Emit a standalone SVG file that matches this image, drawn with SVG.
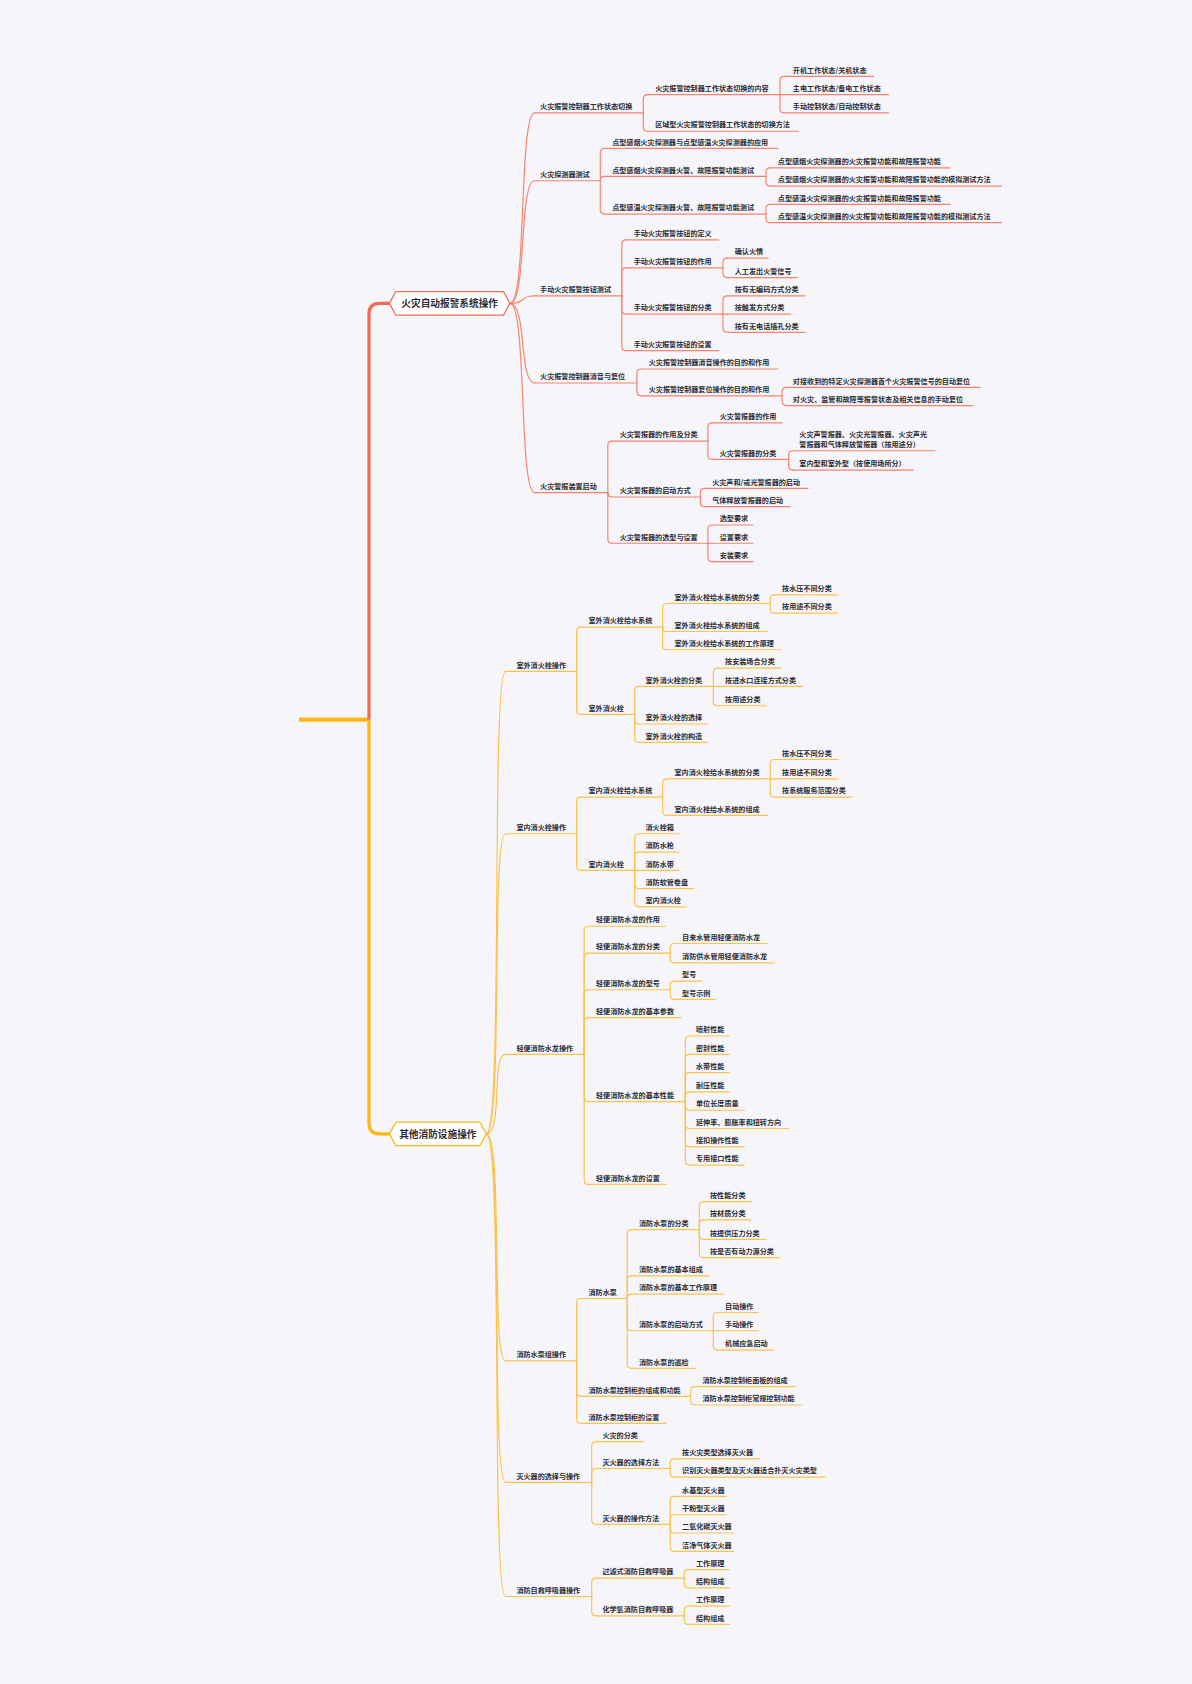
<svg xmlns="http://www.w3.org/2000/svg" width="1192" height="1684" viewBox="0 0 1192 1684">
<style>
text{font-family:"Noto Sans CJK SC","Liberation Sans",sans-serif;font-size:6.6px;font-weight:600;fill:#2b2b33}
.m{font-size:9px;font-weight:700;text-anchor:middle}
.r{stroke:#f8836f;stroke-width:1.1;fill:none;stroke-linecap:round}
.y{stroke:#fbc24e;stroke-width:1.1;fill:none;stroke-linecap:round}
</style>
<rect width="1192" height="1684" fill="#f6f6fa"/>
<g transform="scale(1.0758)">
<g id="connectors">
<path d="M278 669 H343" stroke="#fbb718" stroke-width="4" fill="none"/>
<path d="M343 669 V292 Q343 282 353 282 H362" stroke="#f46a58" stroke-width="3" fill="none"/>
<path d="M343 669 V1044 Q343 1054 353 1054 H362" stroke="#fbb718" stroke-width="3" fill="none"/>
<g class="r">
<path d="M474 282 C490 282 482 105 497 105"/><path d="M474 282 C490 282 482 168 497 168"/><path d="M474 282 C490 282 482 275 497 275"/><path d="M474 282 C490 282 482 356 497 356"/><path d="M474 282 C490 282 482 458 497 458"/>
<path d="M598 105 V92 Q598 88 602 88"/><path d="M598 105 V118 Q598 122 602 122"/>
<path d="M725 88 V75 Q725 71 729 71"/><path d="M725 88 H729"/><path d="M725 88 V101 Q725 105 729 105"/>
<path d="M558 168 V142 Q558 138 562 138"/><path d="M558 168 Q558 164 562 164"/><path d="M558 168 V195 Q558 199 562 199"/>
<path d="M712 164 V160 Q712 156 716 156"/><path d="M712 164 V169 Q712 173 716 173"/>
<path d="M712 199 V194 Q712 190 716 190"/><path d="M712 199 V203 Q712 207 716 207"/>
<path d="M578 275 V227 Q578 223 582 223"/><path d="M578 275 V253 Q578 249 582 249"/><path d="M578 275 V288 Q578 292 582 292"/><path d="M578 275 V322 Q578 326 582 326"/>
<path d="M672 249 V244 Q672 240 676 240"/><path d="M672 249 V254 Q672 258 676 258"/>
<path d="M672 292 V279 Q672 275 676 275"/><path d="M672 292 H676"/><path d="M672 292 V305 Q672 309 676 309"/>
<path d="M592 356 V347 Q592 343 596 343"/><path d="M592 356 V364 Q592 368 596 368"/>
<path d="M727 368 V364 Q727 360 731 360"/><path d="M727 368 V373 Q727 377 731 377"/>
<path d="M565 458 V414 Q565 410 569 410"/><path d="M565 458 Q565 462 569 462"/><path d="M565 458 V501 Q565 505 569 505"/>
<path d="M658 410 V397 Q658 393 662 393"/><path d="M658 410 V423 Q658 427 662 427"/>
<path d="M733 427 V423 Q733 419 737 419"/><path d="M733 427 V433 Q733 437 737 437"/>
<path d="M651 462 V458 Q651 454 655 454"/><path d="M651 462 V467 Q651 471 655 471"/>
<path d="M658 505 V492 Q658 488 662 488"/><path d="M658 505 H662"/><path d="M658 505 V518 Q658 522 662 522"/>
</g>
<g class="y">
<path d="M452 1054 C468 1054 456 624 470 624"/><path d="M452 1054 C468 1054 456 775 470 775"/><path d="M452 1054 C468 1054 456 980 470 980"/><path d="M452 1054 C468 1054 456 1265 470 1265"/><path d="M452 1054 C468 1054 456 1378 470 1378"/><path d="M452 1054 C468 1054 456 1484 470 1484"/>
<path d="M536 624 V587 Q536 583 540 583"/><path d="M536 624 V660 Q536 664 540 664"/>
<path d="M616 583 V565 Q616 561 620 561"/><path d="M616 583 Q616 587 620 587"/><path d="M616 583 V600 Q616 604 620 604"/>
<path d="M716 561 V557 Q716 553 720 553"/><path d="M716 561 V566 Q716 570 720 570"/>
<path d="M590 664 V642 Q590 638 594 638"/><path d="M590 664 V669 Q590 673 594 673"/><path d="M590 664 V686 Q590 690 594 690"/>
<path d="M663 638 V625 Q663 621 667 621"/><path d="M663 638 H667"/><path d="M663 638 V652 Q663 656 667 656"/>
<path d="M536 775 V745 Q536 741 540 741"/><path d="M536 775 V805 Q536 809 540 809"/>
<path d="M616 741 V728 Q616 724 620 724"/><path d="M616 741 V754 Q616 758 620 758"/>
<path d="M716 724 V710 Q716 706 720 706"/><path d="M716 724 H720"/><path d="M716 724 V737 Q716 741 720 741"/>
<path d="M590 809 V779 Q590 775 594 775"/><path d="M590 809 V796 Q590 792 594 792"/><path d="M590 809 H594"/><path d="M590 809 V822 Q590 826 594 826"/><path d="M590 809 V839 Q590 843 594 843"/>
<path d="M543 980 V865 Q543 861 547 861"/><path d="M543 980 V890 Q543 886 547 886"/><path d="M543 980 V924 Q543 920 547 920"/><path d="M543 980 V950 Q543 946 547 946"/><path d="M543 980 V1020 Q543 1024 547 1024"/><path d="M543 980 V1097 Q543 1101 547 1101"/>
<path d="M623 886 V881 Q623 877 627 877"/><path d="M623 886 V891 Q623 895 627 895"/>
<path d="M623 920 V916 Q623 912 627 912"/><path d="M623 920 V925 Q623 929 627 929"/>
<path d="M637 1024 V967 Q637 963 641 963"/><path d="M637 1024 V984 Q637 980 641 980"/><path d="M637 1024 V1001 Q637 997 641 997"/><path d="M637 1024 V1019 Q637 1015 641 1015"/><path d="M637 1024 V1028 Q637 1032 641 1032"/><path d="M637 1024 V1045 Q637 1049 641 1049"/><path d="M637 1024 V1062 Q637 1066 641 1066"/><path d="M637 1024 V1079 Q637 1083 641 1083"/>
<path d="M536 1265 V1211 Q536 1207 540 1207"/><path d="M536 1265 V1294 Q536 1298 540 1298"/><path d="M536 1265 V1319 Q536 1323 540 1323"/>
<path d="M583 1207 V1147 Q583 1143 587 1143"/><path d="M583 1207 V1190 Q583 1186 587 1186"/><path d="M583 1207 Q583 1203 587 1203"/><path d="M583 1207 V1233 Q583 1237 587 1237"/><path d="M583 1207 V1268 Q583 1272 587 1272"/>
<path d="M650 1143 V1121 Q650 1117 654 1117"/><path d="M650 1143 V1138 Q650 1134 654 1134"/><path d="M650 1143 V1148 Q650 1152 654 1152"/><path d="M650 1143 V1165 Q650 1169 654 1169"/>
<path d="M663 1237 V1224 Q663 1220 667 1220"/><path d="M663 1237 H667"/><path d="M663 1237 V1251 Q663 1255 667 1255"/>
<path d="M642 1298 V1293 Q642 1289 646 1289"/><path d="M642 1298 V1302 Q642 1306 646 1306"/>
<path d="M550 1378 V1344 Q550 1340 554 1340"/><path d="M550 1378 V1369 Q550 1365 554 1365"/><path d="M550 1378 V1413 Q550 1417 554 1417"/>
<path d="M623 1365 V1360 Q623 1356 627 1356"/><path d="M623 1365 V1369 Q623 1373 627 1373"/>
<path d="M623 1417 V1395 Q623 1391 627 1391"/><path d="M623 1417 V1412 Q623 1408 627 1408"/><path d="M623 1417 V1421 Q623 1425 627 1425"/><path d="M623 1417 V1438 Q623 1442 627 1442"/>
<path d="M550 1484 V1471 Q550 1467 554 1467"/><path d="M550 1484 V1498 Q550 1502 554 1502"/>
<path d="M636 1467 V1463 Q636 1459 640 1459"/><path d="M636 1467 V1472 Q636 1476 640 1476"/>
<path d="M636 1502 V1497 Q636 1493 640 1493"/><path d="M636 1502 V1506 Q636 1510 640 1510"/>
</g>
</g>

<g id="main1"><polygon points="362,282 368,271 468,271 474,282 468,293 368,293" fill="#fff" stroke="#f46a58" stroke-width="1.2"/><text class="m" x="418" y="285.5">火灾自动报警系统操作</text></g>
<g id="main2"><polygon points="362,1054 368,1043 446,1043 452,1054 446,1065 368,1065" fill="#fff" stroke="#fbb718" stroke-width="1.2"/><text class="m" x="407" y="1057.5">其他消防设施操作</text></g>

<g class="r" id="top-underlines">
<path d="M497 105 H598"/><path d="M602 88 H725"/><path d="M729 71 H812"/><path d="M729 88 H826"/><path d="M729 105 H826"/><path d="M602 122 H742"/>
<path d="M497 168 H558"/><path d="M562 138 H723"/><path d="M562 164 H712"/><path d="M716 156 H883"/><path d="M716 173 H931"/><path d="M562 199 H712"/><path d="M716 190 H883"/><path d="M716 207 H931"/>
<path d="M497 275 H578"/><path d="M582 223 H668"/><path d="M582 249 H672"/><path d="M676 240 H714"/><path d="M676 258 H741"/><path d="M582 292 H672"/><path d="M676 275 H748"/><path d="M676 292 H735"/><path d="M676 309 H748"/><path d="M582 326 H668"/>
<path d="M497 356 H592"/><path d="M596 343 H723"/><path d="M596 368 H727"/><path d="M731 360 H911"/><path d="M731 377 H904"/>
<path d="M497 458 H565"/><path d="M569 410 H658"/><path d="M662 393 H727"/><path d="M662 427 H733"/><path d="M737 419 H869"/><path d="M737 437 H849"/><path d="M569 462 H651"/><path d="M655 454 H751"/><path d="M655 471 H734"/><path d="M569 505 H658"/><path d="M662 488 H700"/><path d="M662 505 H700"/><path d="M662 522 H700"/>
</g>
<g class="y" id="bottom-underlines">
<path d="M470 624 H536"/><path d="M540 583 H616"/><path d="M620 561 H716"/><path d="M720 553 H779"/><path d="M720 570 H779"/><path d="M620 587 H713"/><path d="M620 604 H726"/><path d="M540 664 H590"/><path d="M594 638 H663"/><path d="M667 621 H726"/><path d="M667 638 H746"/><path d="M667 656 H712"/><path d="M594 673 H658"/><path d="M594 690 H658"/>
<path d="M470 775 H536"/><path d="M540 741 H616"/><path d="M620 724 H716"/><path d="M720 706 H779"/><path d="M720 724 H779"/><path d="M720 741 H792"/><path d="M620 758 H713"/><path d="M540 809 H590"/><path d="M594 775 H631"/><path d="M594 792 H631"/><path d="M594 809 H631"/><path d="M594 826 H645"/><path d="M594 843 H638"/>
<path d="M470 980 H543"/><path d="M547 861 H619"/><path d="M547 886 H623"/><path d="M627 877 H713"/><path d="M627 895 H720"/><path d="M547 920 H623"/><path d="M627 912 H652"/><path d="M627 929 H665"/><path d="M547 946 H633"/><path d="M547 1024 H637"/><path d="M641 963 H678"/><path d="M641 980 H678"/><path d="M641 997 H678"/><path d="M641 1015 H678"/><path d="M641 1032 H692"/><path d="M641 1049 H733"/><path d="M641 1066 H692"/><path d="M641 1083 H692"/><path d="M547 1101 H619"/>
<path d="M470 1265 H536"/><path d="M540 1207 H583"/><path d="M587 1143 H650"/><path d="M654 1117 H698"/><path d="M654 1134 H698"/><path d="M654 1152 H712"/><path d="M654 1169 H725"/><path d="M587 1186 H659"/><path d="M587 1203 H673"/><path d="M587 1237 H663"/><path d="M667 1220 H705"/><path d="M667 1237 H705"/><path d="M667 1255 H719"/><path d="M587 1272 H646"/><path d="M540 1298 H642"/><path d="M646 1289 H739"/><path d="M646 1306 H745"/><path d="M540 1323 H619"/>
<path d="M470 1378 H550"/><path d="M554 1340 H598"/><path d="M554 1365 H623"/><path d="M627 1356 H706"/><path d="M627 1373 H767"/><path d="M554 1417 H623"/><path d="M627 1391 H675"/><path d="M627 1408 H675"/><path d="M627 1425 H682"/><path d="M627 1442 H682"/>
<path d="M470 1484 H550"/><path d="M554 1467 H636"/><path d="M640 1459 H678"/><path d="M640 1476 H678"/><path d="M554 1502 H636"/><path d="M640 1493 H678"/><path d="M640 1510 H678"/>
</g>

<g id="top-nodes">
<text x="502" y="101.5">火灾报警控制器工作状态切换</text>
<text x="609" y="84.5">火灾报警控制器工作状态切换的内容</text>
<text x="737" y="67.5">开机工作状态/关机状态</text>
<text x="737" y="84.5">主电工作状态/备电工作状态</text>
<text x="737" y="101.5">手动控制状态/自动控制状态</text>
<text x="609" y="118.5">区域型火灾报警控制器工作状态的切换方法</text>
<text x="502" y="164.5">火灾探测器测试</text>
<text x="569" y="134.5">点型感烟火灾探测器与点型感温火灾探测器的应用</text>
<text x="569" y="160.5">点型感烟火灾探测器火警、故障报警功能测试</text>
<text x="723" y="152.5">点型感烟火灾探测器的火灾报警功能和故障报警功能</text>
<text x="723" y="169.5">点型感烟火灾探测器的火灾报警功能和故障报警功能的模拟测试方法</text>
<text x="569" y="195.5">点型感温火灾探测器火警、故障报警功能测试</text>
<text x="723" y="186.5">点型感温火灾探测器的火灾报警功能和故障报警功能</text>
<text x="723" y="203.5">点型感温火灾探测器的火灾报警功能和故障报警功能的模拟测试方法</text>
<text x="502" y="271.5">手动火灾报警按钮测试</text>
<text x="589" y="219.5">手动火灾报警按钮的定义</text>
<text x="589" y="245.5">手动火灾报警按钮的作用</text>
<text x="683" y="236.5">确认火情</text>
<text x="683" y="254.5">人工发出火警信号</text>
<text x="589" y="288.5">手动火灾报警按钮的分类</text>
<text x="683" y="271.5">按有无编码方式分类</text>
<text x="683" y="288.5">按触发方式分类</text>
<text x="683" y="305.5">按有无电话插孔分类</text>
<text x="589" y="322.5">手动火灾报警按钮的设置</text>
<text x="502" y="352.5">火灾报警控制器消音与复位</text>
<text x="603" y="339.5">火灾报警控制器消音操作的目的和作用</text>
<text x="603" y="364.5">火灾报警控制器复位操作的目的和作用</text>
<text x="737" y="356.5">对接收到的特定火灾探测器首个火灾报警信号的自动复位</text>
<text x="737" y="373.5">对火灾、监管和故障等报警状态及相关信息的手动复位</text>
<text x="502" y="454.5">火灾警报装置启动</text>
<text x="576" y="406.5">火灾警报器的作用及分类</text>
<text x="669" y="389.5">火灾警报器的作用</text>
<text x="669" y="423.5">火灾警报器的分类</text>
<text x="743" y="406.5">火灾声警报器、火灾光警报器、火灾声光</text>
<text x="743" y="415.5">警报器和气体释放警报器（按用途分）</text>
<text x="743" y="433.5">室内型和室外型（按使用场所分）</text>
<text x="576" y="458.5">火灾警报器的启动方式</text>
<text x="662" y="450.5">火灾声和/或光警报器的启动</text>
<text x="662" y="467.5">气体释放警报器的启动</text>
<text x="576" y="501.5">火灾警报器的选型与设置</text>
<text x="669" y="484.5">选型要求</text>
<text x="669" y="501.5">设置要求</text>
<text x="669" y="518.5">安装要求</text>
</g>

<g id="bottom-nodes">
<text x="480" y="620.5">室外消火栓操作</text>
<text x="547" y="579.5">室外消火栓给水系统</text>
<text x="627" y="557.5">室外消火栓给水系统的分类</text>
<text x="727" y="549.5">按水压不同分类</text>
<text x="727" y="566.5">按用途不同分类</text>
<text x="627" y="583.5">室外消火栓给水系统的组成</text>
<text x="627" y="600.5">室外消火栓给水系统的工作原理</text>
<text x="547" y="660.5">室外消火栓</text>
<text x="600" y="634.5">室外消火栓的分类</text>
<text x="674" y="617.5">按安装场合分类</text>
<text x="674" y="634.5">按进水口连接方式分类</text>
<text x="674" y="652.5">按用途分类</text>
<text x="600" y="669.5">室外消火栓的选择</text>
<text x="600" y="686.5">室外消火栓的构造</text>
<text x="480" y="771.5">室内消火栓操作</text>
<text x="547" y="737.5">室内消火栓给水系统</text>
<text x="627" y="720.5">室内消火栓给水系统的分类</text>
<text x="727" y="702.5">按水压不同分类</text>
<text x="727" y="720.5">按用途不同分类</text>
<text x="727" y="737.5">按系统服务范围分类</text>
<text x="627" y="754.5">室内消火栓给水系统的组成</text>
<text x="547" y="805.5">室内消火栓</text>
<text x="600" y="771.5">消火栓箱</text>
<text x="600" y="788.5">消防水枪</text>
<text x="600" y="805.5">消防水带</text>
<text x="600" y="822.5">消防软管卷盘</text>
<text x="600" y="839.5">室内消火栓</text>
<text x="480" y="976.5">轻便消防水龙操作</text>
<text x="554" y="857.5">轻便消防水龙的作用</text>
<text x="554" y="882.5">轻便消防水龙的分类</text>
<text x="634" y="873.5">自来水管用轻便消防水龙</text>
<text x="634" y="891.5">消防供水管用轻便消防水龙</text>
<text x="554" y="916.5">轻便消防水龙的型号</text>
<text x="634" y="908.5">型号</text>
<text x="634" y="925.5">型号示例</text>
<text x="554" y="942.5">轻便消防水龙的基本参数</text>
<text x="554" y="1020.5">轻便消防水龙的基本性能</text>
<text x="647" y="959.5">喷射性能</text>
<text x="647" y="976.5">密封性能</text>
<text x="647" y="993.5">水带性能</text>
<text x="647" y="1011.5">耐压性能</text>
<text x="647" y="1028.5">单位长度质量</text>
<text x="647" y="1045.5">延伸率、膨胀率和扭转方向</text>
<text x="647" y="1062.5">接扣操作性能</text>
<text x="647" y="1079.5">专用接口性能</text>
<text x="554" y="1097.5">轻便消防水龙的设置</text>
<text x="480" y="1261.5">消防水泵组操作</text>
<text x="547" y="1203.5">消防水泵</text>
<text x="594" y="1139.5">消防水泵的分类</text>
<text x="660" y="1113.5">按性能分类</text>
<text x="660" y="1130.5">按材质分类</text>
<text x="660" y="1148.5">按提供压力分类</text>
<text x="660" y="1165.5">按是否有动力源分类</text>
<text x="594" y="1182.5">消防水泵的基本组成</text>
<text x="594" y="1199.5">消防水泵的基本工作原理</text>
<text x="594" y="1233.5">消防水泵的启动方式</text>
<text x="674" y="1216.5">自动操作</text>
<text x="674" y="1233.5">手动操作</text>
<text x="674" y="1251.5">机械应急启动</text>
<text x="594" y="1268.5">消防水泵的巡检</text>
<text x="547" y="1294.5">消防水泵控制柜的组成和功能</text>
<text x="653" y="1285.5">消防水泵控制柜面板的组成</text>
<text x="653" y="1302.5">消防水泵控制柜常规控制功能</text>
<text x="547" y="1319.5">消防水泵控制柜的设置</text>
<text x="480" y="1374.5">灭火器的选择与操作</text>
<text x="560" y="1336.5">火灾的分类</text>
<text x="560" y="1361.5">灭火器的选择方法</text>
<text x="634" y="1352.5">按火灾类型选择灭火器</text>
<text x="634" y="1369.5">识别灭火器类型及灭火器适合扑灭火灾类型</text>
<text x="560" y="1413.5">灭火器的操作方法</text>
<text x="634" y="1387.5">水基型灭火器</text>
<text x="634" y="1404.5">干粉型灭火器</text>
<text x="634" y="1421.5">二氧化碳灭火器</text>
<text x="634" y="1438.5">洁净气体灭火器</text>
<text x="480" y="1480.5">消防自救呼吸器操作</text>
<text x="560" y="1463.5">过滤式消防自救呼吸器</text>
<text x="647" y="1455.5">工作原理</text>
<text x="647" y="1472.5">结构组成</text>
<text x="560" y="1498.5">化学氧消防自救呼吸器</text>
<text x="647" y="1489.5">工作原理</text>
<text x="647" y="1506.5">结构组成</text>
</g>
</g>
</svg>
